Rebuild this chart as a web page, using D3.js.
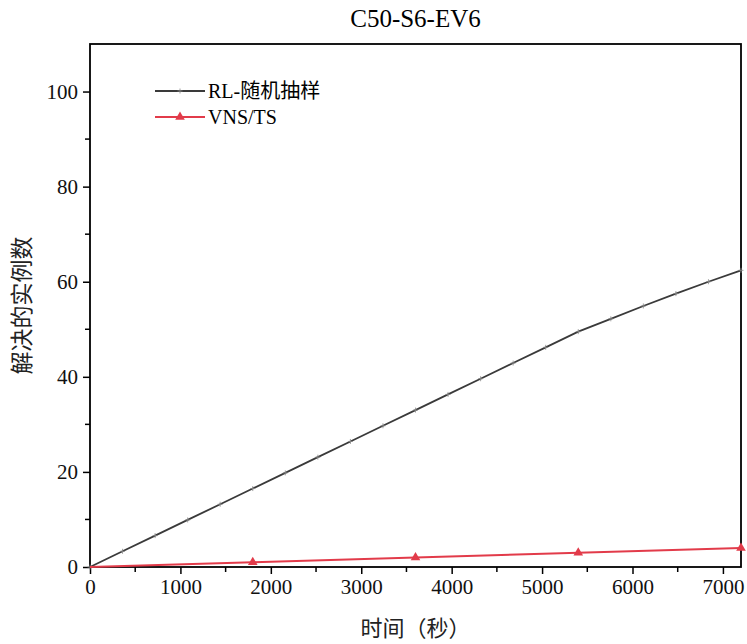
<!DOCTYPE html>
<html>
<head>
<meta charset="utf-8">
<script src="https://cdn.jsdelivr.net/npm/d3@7"></script>
<style>
  body { margin: 0; background: #fff; }
  svg { display: block; }
</style>
</head>
<body>
<div id="chart"></div>
<script>
// data
const titleText = "C50-S6-EV6";
const xTitle = "时间（秒）";
const yTitle = "解决的实例数";

const rlTimes = [0, 360, 720, 1080, 1440, 1800, 2160, 2520, 2880, 3240, 3600,
  3960, 4320, 4680, 5040, 5400, 5760, 6120, 6480, 6840, 7200];
const rlValues = [0, 3.3, 6.6, 9.9, 13.2, 16.5, 19.8, 23.1, 26.4, 29.7, 33.0,
  36.3, 39.6, 42.9, 46.2, 49.5, 52.2, 54.9, 57.5, 60.0, 62.4];

const vnsTimes = [0, 1800, 3600, 5400, 7200];
const vnsValues = [0, 1, 2, 3, 4];

const xTickValues = [0, 1000, 2000, 3000, 4000, 5000, 6000, 7000];
const yTickValues = [0, 20, 40, 60, 80, 100];

const seriesNames = ["RL-随机抽样", "VNS/TS"];

(function() {
  const width = 747, height = 644;
  const margin = { top: 44, right: 6, bottom: 77, left: 90 };
  const serif = "'Liberation Serif', 'DejaVu Serif', 'Noto Serif', 'Times New Roman', Times, serif";
  const cjk = "'Noto Sans CJK SC', sans-serif";
  const black = "#000";
  const red = "#e23b4a";

  const svg = d3.select("#chart").append("svg")
    .attr("width", width)
    .attr("height", height);

  const x = d3.scaleLinear().domain([0, 7200]).range([margin.left, width - margin.right]);
  const y = d3.scaleLinear().domain([0, 110]).range([height - margin.bottom, margin.top]);

  // Title
  svg.append("text")
    .attr("x", (margin.left + width - margin.right) / 2)
    .attr("y", 27)
    .attr("text-anchor", "middle")
    .attr("font-family", serif)
    .attr("font-size", 25)
    .text(titleText);

  // Minor ticks
  const xMinor = d3.range(500, 7200, 1000);
  const yMinor = d3.range(10, 110, 20);

  svg.append("g").selectAll("line").data(xMinor).join("line")
    .attr("x1", d => x(d)).attr("x2", d => x(d))
    .attr("y1", y(0)).attr("y2", y(0) + 5)
    .attr("stroke", black).attr("stroke-width", 1.5);

  svg.append("g").selectAll("line").data(yMinor).join("line")
    .attr("x1", x(0) - 5).attr("x2", x(0))
    .attr("y1", d => y(d)).attr("y2", d => y(d))
    .attr("stroke", black).attr("stroke-width", 1.5);

  // Axes
  const xAxis = svg.append("g")
    .attr("transform", `translate(0,${y(0)})`)
    .call(d3.axisBottom(x).tickValues(xTickValues).tickFormat(d3.format("d"))
      .tickSize(7).tickSizeOuter(0).tickPadding(5));
  const yAxis = svg.append("g")
    .attr("transform", `translate(${x(0)},0)`)
    .call(d3.axisLeft(y).tickValues(yTickValues).tickFormat(d3.format("d"))
      .tickSize(7).tickSizeOuter(0).tickPadding(5));

  [xAxis, yAxis].forEach(a => {
    a.attr("font-family", serif).attr("font-size", 21);
    a.select(".domain").remove();
    a.selectAll(".tick line").attr("stroke", black).attr("stroke-width", 1.5);
    a.selectAll(".tick text").attr("fill", "#111");
  });

  // Frame
  svg.append("rect")
    .attr("x", x(0)).attr("y", y(110))
    .attr("width", x(7200) - x(0))
    .attr("height", y(0) - y(110))
    .attr("fill", "none")
    .attr("stroke", black)
    .attr("stroke-width", 1.8);

  // Axis titles
  svg.append("text")
    .attr("x", (margin.left + width - margin.right) / 2)
    .attr("y", 636)
    .attr("text-anchor", "middle")
    .attr("font-family", cjk)
    .attr("font-size", 22)
    .attr("fill", "#222")
    .text(xTitle);

  svg.append("text")
    .attr("transform", `translate(30,${(y(0) + y(110)) / 2}) rotate(-90)`)
    .attr("text-anchor", "middle")
    .attr("font-family", cjk)
    .attr("font-size", 23)
    .attr("fill", "#222")
    .text(yTitle);

  const line = d3.line().x(d => x(d[0])).y(d => y(d[1]));

  // RL series
  const rlData = rlTimes.map((t, i) => [t, rlValues[i]]);
  svg.append("path")
    .datum(rlData)
    .attr("fill", "none")
    .attr("stroke", "#3a3a3a")
    .attr("stroke-width", 1.8)
    .attr("d", line);

  svg.append("g").selectAll("path").data(rlData).join("path")
    .attr("transform", d => `translate(${x(d[0])},${y(d[1])})`)
    .attr("d", "M-2.5,0H2.5M0,-2.5V2.5")
    .attr("stroke", "#888")
    .attr("stroke-width", 0.8);

  // VNS/TS series
  const vnsData = vnsTimes.map((t, i) => [t, vnsValues[i]]);
  svg.append("path")
    .datum(vnsData)
    .attr("fill", "none")
    .attr("stroke", red)
    .attr("stroke-width", 2)
    .attr("d", line);

  const tri = d3.symbol().type(d3.symbolTriangle).size(40);
  svg.append("g").selectAll("path").data(vnsData.slice(1)).join("path")
    .attr("transform", d => `translate(${x(d[0])},${y(d[1])})`)
    .attr("d", tri)
    .attr("fill", red);

  // Legend
  const legend = svg.append("g").attr("transform", "translate(155,91)");
  legend.append("line")
    .attr("x1", 0).attr("x2", 50).attr("y1", 0).attr("y2", 0)
    .attr("stroke", "#3a3a3a").attr("stroke-width", 1.8);
  legend.append("path")
    .attr("transform", "translate(25,0)")
    .attr("d", "M-2.5,0H2.5M0,-2.5V2.5")
    .attr("stroke", "#888").attr("stroke-width", 0.8);
  legend.append("text")
    .attr("x", 53).attr("y", 7)
    .attr("font-family", serif + ", " + cjk)
    .attr("font-size", 20)
    .text(seriesNames[0]);

  legend.append("line")
    .attr("x1", 0).attr("x2", 50).attr("y1", 26).attr("y2", 26)
    .attr("stroke", red).attr("stroke-width", 2);
  legend.append("path")
    .attr("transform", "translate(25,26)")
    .attr("d", tri)
    .attr("fill", red);
  legend.append("text")
    .attr("x", 53).attr("y", 33)
    .attr("font-family", serif)
    .attr("font-size", 20)
    .text(seriesNames[1]);
})();
</script>
</body>
</html>
